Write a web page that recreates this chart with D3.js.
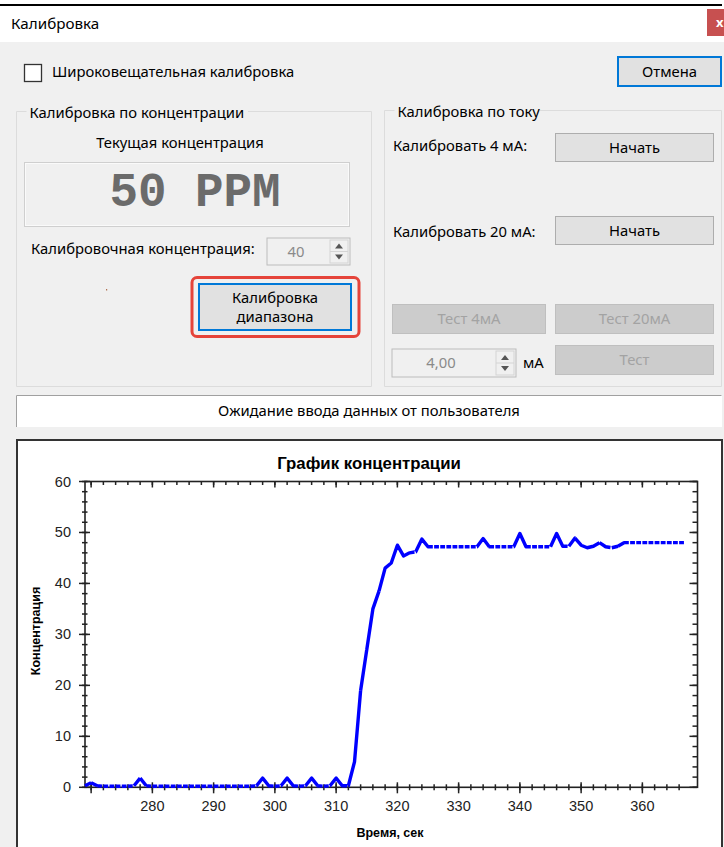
<!DOCTYPE html>
<html>
<head>
    <meta charset="utf-8">
    <script src="https://d3js.org/d3.v7.min.js"></script>
    <style>
        body {
            margin: 0;
            background: #f0f0f0;
        }

        svg text {
            font-family: 'Noto Sans', sans-serif;
            font-size: 14.8px;
            fill: #000;
        }

        .chart text {
            font-family: 'Liberation Sans', Arial, sans-serif;
        }
    </style>
</head>

<body>
    <script>
        // sample times of the concentration log, sec
        const seconds = [
            269, 270, 271, 272, 273, 274, 275, 276, 277, 278,
            279, 280, 281, 282, 283, 284, 285, 286, 287, 288,
            289, 290, 291, 292, 293, 294, 295, 296, 297, 298,
            299, 300, 301, 302, 303, 304, 305, 306, 307, 308,
            309, 310, 311, 312, 313, 314, 315, 316, 317, 318,
            319, 320, 321, 322, 323, 324, 325, 326, 327, 328,
            329, 330, 331, 332, 333, 334, 335, 336, 337, 338,
            339, 340, 341, 342, 343, 344, 345, 346, 347, 348,
            349, 350, 351, 352, 353, 354, 355, 356, 357, 358,
            359, 360, 361, 362, 363, 364, 365, 366, 367
        ];

        // concentration read at each second, ppm
        const concentration = [
            0.3, 0.9, 0.3, 0.2, 0.2, 0.2, 0.2, 0.2, 0.3, 1.8,
            0.3, 0.2, 0.2, 0.2, 0.2, 0.2, 0.2, 0.2, 0.2, 0.2,
            0.2, 0.2, 0.2, 0.2, 0.2, 0.2, 0.2, 0.2, 0.3, 1.8,
            0.3, 0.2, 0.3, 1.8, 0.3, 0.2, 0.3, 1.8, 0.3, 0.2,
            0.3, 1.8, 0.3, 0.3, 5.0, 19.0, 27.0, 35.0, 38.5, 43.0,
            44.0, 47.5, 45.4, 46.0, 46.2, 48.7, 47.2, 47.2, 47.2, 47.2,
            47.2, 47.2, 47.2, 47.2, 47.2, 48.8, 47.2, 47.2, 47.2, 47.2,
            47.2, 49.8, 47.2, 47.2, 47.2, 47.2, 47.2, 49.8, 47.3, 47.3,
            48.9, 47.5, 47.0, 47.3, 48.0, 47.2, 47.0, 47.3, 48.0, 48.0,
            48.0, 48.0, 48.0, 48.0, 48.0, 48.0, 48.0, 48.0, 48.0
        ];

        const xDomain = [269, 369];
        const yDomain = [0, 60];
        const xMajorTicks = [270, 280, 290, 300, 310, 320, 330, 340, 350, 360];
        const xTickLabels = ['', '280', '290', '300', '310', '320', '330', '340', '350', '360'];
        const yMajorTicks = [0, 10, 20, 30, 40, 50, 60];

        const width = 724,
            height = 847;

        const svg = d3.select('body').append('svg')
            .attr('width', width)
            .attr('height', height);

        // ---- window frame ----
        svg.append('rect').attr('width', width).attr('height', height).attr('fill', '#f0f0f0');
        svg.append('rect').attr('width', width).attr('height', 42).attr('fill', '#fff');
        svg.append('rect').attr('y', 4).attr('width', 722).attr('height', 2).attr('fill', '#000');
        svg.append('text').attr('x', 11).attr('y', 29).style('font-size', '15.2px').text('Калибровка');

        svg.append('rect').attr('x', 707).attr('y', 9).attr('width', 17).attr('height', 27)
            .attr('fill', '#c75050');
        svg.append('text').attr('x', 716).attr('y', 27)
            .style('fill', '#fff').style('font-weight', 'bold').style('font-size', '13px').text('x');

        // ---- widgets ----
        function label(x, y, txt, anchor, color) {
            return svg.append('text')
                .attr('x', x).attr('y', y)
                .attr('text-anchor', anchor || 'start')
                .style('fill', color || '#000')
                .text(txt);
        }

        function button(x, y, w, h, txt, kind) {
            const g = svg.append('g');
            const disabled = kind === 'disabled';
            const focused = kind === 'focused';
            g.append('rect')
                .attr('x', x).attr('y', y).attr('width', w).attr('height', h)
                .attr('fill', disabled ? '#cccccc' : '#e1e1e1')
                .attr('stroke', focused ? '#0078d7' : (disabled ? '#bfbfbf' : '#adadad'))
                .attr('stroke-width', focused ? 2 : 1);
            const lines = txt.split('\n');
            lines.forEach((t, i) => {
                g.append('text')
                    .attr('x', x + w / 2)
                    .attr('y', y + h / 2 + 5 + (i - (lines.length - 1) / 2) * 19)
                    .attr('text-anchor', 'middle')
                    .style('fill', disabled ? '#a3a3a3' : '#000')
                    .text(t);
            });
            return g;
        }

        function groupBox(x0, y0, x1, y1, txt, labelEnd) {
            svg.append('path')
                .attr('d', `M${x0 + 10},${y0}H${x0}V${y1}H${x1}V${y0}H${labelEnd}`)
                .attr('fill', 'none')
                .attr('stroke', '#dcdcdc');
            label(x0 + 13, y0 + 6, txt);
        }

        function spinBox(x, y, w, h, txt, textX) {
            svg.append('rect')
                .attr('x', x).attr('y', y).attr('width', w).attr('height', h)
                .attr('fill', '#f0f0f0').attr('stroke', '#bcbcbc');
            label(textX, y + h / 2 + 5, txt, 'middle', '#8a8a8a');
            const bx = x + w - 20;
            svg.append('rect').attr('x', bx).attr('y', y + 2).attr('width', 18).attr('height', h - 4)
                .attr('fill', '#f0f0f0').attr('stroke', '#d4d4d4');
            svg.append('line').attr('x1', bx).attr('x2', bx + 18)
                .attr('y1', y + h / 2).attr('y2', y + h / 2).attr('stroke', '#d4d4d4');
            const cx = bx + 9,
                cy = y + h / 2;
            svg.append('path')
                .attr('d', `M${cx - 4},${cy - 3}L${cx + 4},${cy - 3}L${cx},${cy - 8}Z M${cx - 4},${cy + 3}L${cx + 4},${cy + 3}L${cx},${cy + 8}Z`)
                .attr('fill', '#555');
        }

        // checkbox + cancel
        svg.append('rect').attr('x', 24.5).attr('y', 64.5).attr('width', 17).attr('height', 17)
            .attr('fill', '#fff').attr('stroke', '#333').attr('stroke-width', 1.3);
        label(52, 77, 'Широковещательная калибровка');
        button(618, 57, 103, 29, 'Отмена', 'focused');

        // concentration group
        groupBox(16.5, 111.5, 371.5, 386.5, 'Калибровка по концентрации', 248);
        label(180, 148, 'Текущая концентрация', 'middle');
        svg.append('rect').attr('x', 24.5).attr('y', 162.5).attr('width', 325).attr('height', 64)
            .attr('fill', '#f0f0f0').attr('stroke', '#cfcfcf');
        svg.append('rect').attr('x', 25.5).attr('y', 163.5).attr('width', 323).attr('height', 62)
            .attr('fill', 'none').attr('stroke', '#fafafa');
        svg.append('text').attr('x', 195).attr('y', 206).attr('text-anchor', 'middle')
            .style('font-family', "'Liberation Mono', 'Courier New', monospace")
            .style('font-weight', 'bold').style('font-size', '47.5px').style('fill', '#6b6b6b')
            .text('50 PPM');
        label(31, 254, 'Калибровочная концентрация:');
        spinBox(267, 238, 83, 27, '40', 296);
        svg.append('rect').attr('x', 106).attr('y', 289).attr('width', 1.2).attr('height', 1.5)
            .attr('fill', '#b07050');
        svg.append('rect').attr('x', 192).attr('y', 277.5).attr('width', 167).attr('height', 59)
            .attr('rx', 5).attr('fill', 'none').attr('stroke', '#e5443a').attr('stroke-width', 3);
        button(199, 284, 152, 46, 'Калибровка\nдиапазона', 'focused');

        // current group
        groupBox(384.5, 110.5, 721.5, 386.5, 'Калибровка по току', 540);
        label(393, 151, 'Калибровать 4 мА:');
        button(555.5, 133.5, 158, 28, 'Начать');
        label(393, 237, 'Калибровать 20 мА:');
        button(555.5, 216.5, 158, 28, 'Начать');
        button(392.5, 304.5, 153, 29, 'Тест 4мА', 'disabled');
        button(555.5, 304.5, 158, 29, 'Тест 20мА', 'disabled');
        spinBox(392, 349, 124, 28, '4,00', 441);
        label(523, 368, 'мА');
        button(555.5, 345.5, 158, 29, 'Тест', 'disabled');

        // status line
        svg.append('rect').attr('x', 16).attr('y', 395).attr('width', 706).attr('height', 32).attr('fill', '#fff');
        svg.append('path').attr('d', 'M16.5,427V395.5H721.5').attr('fill', 'none').attr('stroke', '#a0a0a0');
        label(369, 416, 'Ожидание ввода данных от пользователя', 'middle');

        // ---- chart ----
        svg.append('rect').attr('x', 17).attr('y', 440).attr('width', 705).attr('height', 430)
            .attr('fill', '#fff').attr('stroke', '#333').attr('stroke-width', 2);

        const chart = svg.append('g').attr('class', 'chart');

        const x = d3.scaleLinear().domain(xDomain).range([85, 697.5]);
        const y = d3.scaleLinear().domain(yDomain).range([787.3, 481.5]);

        const xMinor = d3.range(270, 367, 2);
        const yMinor = d3.range(0, 61, 2);
        const axisColor = '#222';

        const x0 = x.range()[0],
            x1 = x.range()[1],
            y0 = y.range()[0],
            y1 = y.range()[1];

        chart.append('rect')
            .attr('x', x0).attr('y', y1).attr('width', x1 - x0).attr('height', y0 - y1)
            .attr('fill', 'none').attr('stroke', axisColor).attr('stroke-width', 1.6);

        function tickLines(data, attrs) {
            chart.append('g').selectAll('line').data(data).join('line')
                .attr('x1', attrs.x1).attr('x2', attrs.x2)
                .attr('y1', attrs.y1).attr('y2', attrs.y2)
                .attr('stroke', axisColor).attr('stroke-width', 1.5);
        }

        // bottom: ticks cross the axis
        tickLines(xMinor, { x1: d => x(d), x2: d => x(d), y1: y0 - 3, y2: y0 + 3 });
        tickLines(xMajorTicks, { x1: d => x(d), x2: d => x(d), y1: y0 - 5, y2: y0 + 6 });
        // top: ticks inward
        tickLines(xMinor, { x1: d => x(d), x2: d => x(d), y1: y1, y2: y1 + 3.5 });
        tickLines(xMajorTicks, { x1: d => x(d), x2: d => x(d), y1: y1, y2: y1 + 6 });
        // left: ticks cross the axis
        tickLines(yMinor, { x1: x0 - 3, x2: x0 + 2.5, y1: d => y(d), y2: d => y(d) });
        tickLines(yMajorTicks, { x1: x0 - 6, x2: x0 + 5, y1: d => y(d), y2: d => y(d) });
        // right: ticks inward
        tickLines(yMinor, { x1: x1 - 5, x2: x1, y1: d => y(d), y2: d => y(d) });
        tickLines(yMajorTicks, { x1: x1 - 8, x2: x1, y1: d => y(d), y2: d => y(d) });

        chart.append('g').selectAll('text').data(xMajorTicks).join('text')
            .attr('x', d => x(d)).attr('y', y0 + 24)
            .attr('text-anchor', 'middle')
            .style('font-size', '14.5px').style('fill', '#222')
            .text((d, i) => xTickLabels[i]);

        chart.append('g').selectAll('text').data(yMajorTicks).join('text')
            .attr('x', x0 - 14).attr('y', d => y(d) + 5)
            .attr('text-anchor', 'end')
            .style('font-size', '14.5px').style('fill', '#222')
            .text(d => d);

        chart.append('text')
            .attr('x', 369).attr('y', 469)
            .attr('text-anchor', 'middle')
            .style('font-size', '16.8px').style('font-weight', 'bold')
            .text('График концентрации');

        chart.append('text')
            .attr('x', 390).attr('y', 837)
            .attr('text-anchor', 'middle')
            .style('font-size', '12.5px').style('font-weight', 'bold')
            .text('Время, сек');

        chart.append('text')
            .attr('transform', 'translate(40,631) rotate(-90)')
            .attr('text-anchor', 'middle')
            .style('font-size', '12.5px').style('font-weight', 'bold')
            .text('Концентрация');

        // one short segment per sample interval; flat ones show a small gap at the sample
        const segments = d3.pairs(concentration.map((v, i) => [seconds[i], v]));
        const line = d3.line()
            .x(d => x(d[0]))
            .y(d => y(d[1]));

        // solid underlay joins the sloped parts smoothly
        chart.append('path')
            .datum(concentration.map((v, i) => [seconds[i], v]))
            .attr('d', line)
            .attr('fill', 'none')
            .attr('stroke', '#0000ff')
            .attr('stroke-width', 3.4)
            .attr('stroke-linejoin', 'round')
            .attr('stroke-dasharray', function () {
                // gaps only where consecutive samples are level
                const parts = [];
                segments.forEach(s => {
                    const dx = x(s[1][0]) - x(s[0][0]);
                    const dy = y(s[1][1]) - y(s[0][1]);
                    const len = Math.hypot(dx, dy);
                    if (Math.abs(dy) < 1.5) parts.push(len - 1.3, 1.3);
                    else parts.push(len, 0);
                });
                return parts.join(',');
            });
    </script>
</body>

</html>
